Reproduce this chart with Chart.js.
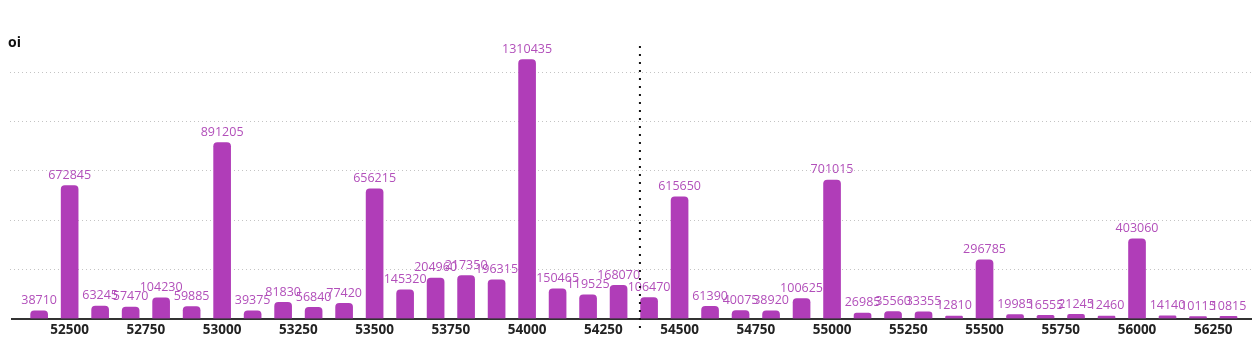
<!DOCTYPE html>
<html>
<head>
<meta charset="utf-8">
<script src="https://cdn.jsdelivr.net/npm/chart.js@4.4.0/dist/chart.umd.min.js"></script>
<style>
  html, body { margin: 0; padding: 0; background: #fff; }
  #wrap { width: 1252px; height: 338px; }
</style>
</head>
<body>
<div id="wrap"><canvas id="oiChart"></canvas></div>
<script>
// Open interest per strike
const strikes = [52400, 52500, 52600, 52700, 52800, 52900, 53000, 53100, 53200, 53300,
    53400, 53500, 53600, 53700, 53800, 53900, 54000, 54100, 54200, 54300,
    54400, 54500, 54600, 54700, 54800, 54900, 55000, 55100, 55200, 55300,
    55400, 55500, 55600, 55700, 55800, 55900, 56000, 56100, 56200, 56300];
const oiValues = [38710, 672845, 63245, 57470, 104230, 59885, 891205, 39375, 81830, 56840,
    77420, 656215, 145320, 204960, 217350, 196315, 1310435, 150465, 119525, 168070,
    106470, 615650, 61390, 40075, 38920, 100625, 701015, 26985, 35560, 33355,
    12810, 296785, 19985, 16555, 21245, 12460, 403060, 14140, 10115, 10815];
const tickStrikes = [52500, 52750, 53000, 53250, 53500, 53750, 54000, 54250,
    54500, 54750, 55000, 55250, 55500, 55750, 56000, 56250];
const gridValues = [250000, 500000, 750000, 1000000, 1250000];
const spotPrice = 54370;

const FONT = "'Open Sans', sans-serif";

// dotted horizontal guides, value labels above bars, the "oi" caption and the spot line
const extras = {
    id: 'extras',
    beforeDatasetsDraw(chart) {
        const ctx = chart.ctx;
        const y = chart.scales.y;
        ctx.save();
        ctx.strokeStyle = '#c4c4c4';
        ctx.lineWidth = 1;
        ctx.setLineDash([1, 3]);
        gridValues.forEach(v => {
            const py = Math.round(y.getPixelForValue(v)) + 0.5;
            ctx.beginPath();
            ctx.moveTo(10, py);
            ctx.lineTo(chart.chartArea.right, py);
            ctx.stroke();
        });
        ctx.restore();
    },
    afterDatasetsDraw(chart) {
        const ctx = chart.ctx;
        const meta = chart.getDatasetMeta(0);
        ctx.save();
        ctx.font = '12.5px ' + FONT;
        ctx.fillStyle = '#b24fba';
        ctx.textAlign = 'center';
        ctx.textBaseline = 'bottom';
        meta.data.forEach((bar, i) => {
            ctx.fillText(String(oiValues[i]), bar.x, bar.y - 4);
        });

        const x = chart.scales.x.getPixelForValue(spotPrice);
        ctx.strokeStyle = '#111';
        ctx.lineWidth = 2;
        ctx.setLineDash([2, 6]);
        ctx.beginPath();
        ctx.moveTo(x, chart.chartArea.top + 4);
        ctx.lineTo(x, chart.chartArea.bottom + 14);
        ctx.stroke();

        ctx.setLineDash([]);
        ctx.font = 'bold 14px ' + FONT;
        ctx.fillStyle = '#111';
        ctx.textAlign = 'left';
        ctx.textBaseline = 'middle';
        ctx.fillText('oi', 8, 43);
        ctx.restore();
    }
};

new Chart(document.getElementById('oiChart'), {
    type: 'bar',
    data: {
        datasets: [{
            label: 'oi',
            data: strikes.map((s, i) => ({ x: s, y: oiValues[i] })),
            backgroundColor: '#b03db8',
            borderRadius: { topLeft: 4, topRight: 4 },
            borderSkipped: 'bottom',
            barThickness: 17
        }]
    },
    options: {
        responsive: true,
        maintainAspectRatio: false,
        animation: false,
        layout: { padding: { top: 42, left: 12, right: 0, bottom: 4 } },
        plugins: {
            legend: { display: false },
            tooltip: { enabled: false }
        },
        scales: {
            x: {
                type: 'linear',
                offset: false,
                min: 52311,
                max: 56377,
                afterBuildTicks: (scale) => {
                    scale.ticks = tickStrikes.map(v => ({ value: v }));
                },
                grid: { display: false },
                border: { display: true, color: '#333', width: 2 },
                ticks: {
                    color: '#222',
                    font: { family: FONT, size: 13.5, weight: 'bold', lineHeight: 1 },
                    padding: -3,
                    maxRotation: 0,
                    callback: (v) => String(v)
                }
            },
            y: {
                min: 0,
                max: 1400000,
                display: false
            }
        }
    },
    plugins: [extras]
});
</script>
</body>
</html>
